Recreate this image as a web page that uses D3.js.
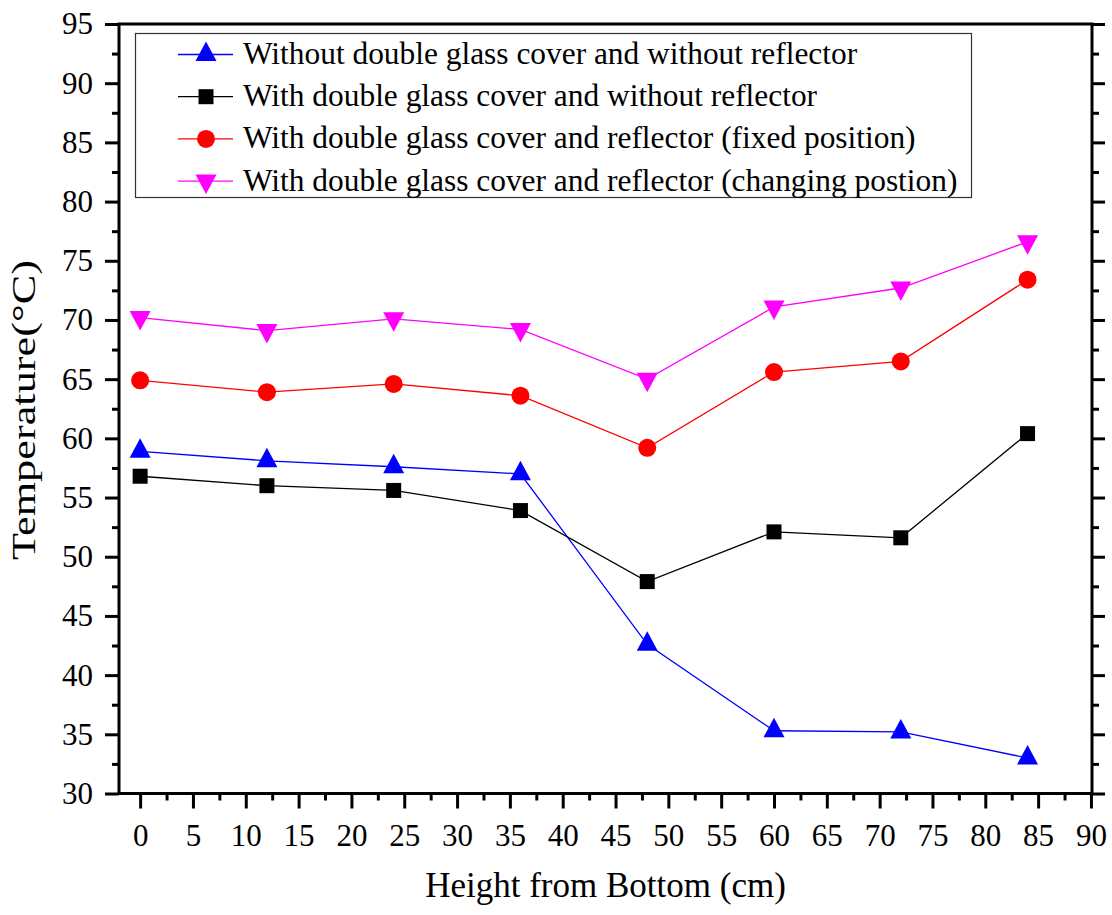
<!DOCTYPE html>
<html>
<head>
<meta charset="utf-8">
<script src="https://cdn.jsdelivr.net/npm/d3@7/dist/d3.min.js"></script>
<style>
  html, body { margin: 0; padding: 0; background: #fff; }
  svg { display: block; }
  text { font-family: "Liberation Serif", "Times New Roman", serif; fill: #000; }
</style>
</head>
<body>
<svg id="chart" width="1112" height="915"></svg>
<script>
// ---- data ----
const heights = [0, 12, 24, 36, 48, 60, 72, 84];
const seriesNames = [
  "Without double glass cover and without reflector",
  "With double glass cover and without reflector",
  "With double glass cover and reflector (fixed position)",
  "With double glass cover and reflector (changing postion)"
];
const noCoverNoReflector   = [58.9, 58.1, 57.6, 57.0, 42.6, 35.3, 35.2, 33.0];
const coverNoReflector     = [56.8, 56.0, 55.6, 53.9, 47.9, 52.1, 51.6, 60.4];
const coverReflectorFixed  = [64.9, 63.9, 64.6, 63.6, 59.2, 65.6, 66.5, 73.4];
const coverReflectorMoving = [70.2, 69.1, 70.1, 69.2, 65.0, 71.1, 72.7, 76.6];
const xTicks = [0, 5, 10, 15, 20, 25, 30, 35, 40, 45, 50, 55, 60, 65, 70, 75, 80, 85, 90];
const yTicks = [30, 35, 40, 45, 50, 55, 60, 65, 70, 75, 80, 85, 90, 95];
const xLabel = "Height from Bottom (cm)";
const yLabel = "Temperature(°C)";

// ---- styles ----
const colors = ["#0000FF", "#000000", "#FF0000", "#FF00FF"];
const markers = ["triUp", "square", "circle", "triDown"];
const allSeries = [noCoverNoReflector, coverNoReflector, coverReflectorFixed, coverReflectorMoving];

const svg = d3.select("#chart");
const L = 119, R = 1092, T = 24, B = 793.5;

const x = d3.scaleLinear().domain([-2, 90.1]).range([L, R]);
const y = d3.scaleLinear().domain([30, 95]).range([B, T]);

function markerPath(type) {
  if (type === "triUp") return "M0,-13L10.5,6.5L-10.5,6.5Z";
  if (type === "triDown") return "M0,13L10.5,-6.5L-10.5,-6.5Z";
  if (type === "square") return "M-7.5,-7.5H7.5V7.5H-7.5Z";
  return d3.arc()({innerRadius: 0, outerRadius: 9, startAngle: 0, endAngle: 2 * Math.PI});
}

// ---- series ----
const line = d3.line().x((d, i) => x(heights[i])).y(d => y(d));
allSeries.forEach((vals, s) => {
  svg.append("path")
    .attr("d", line(vals))
    .attr("fill", "none")
    .attr("stroke", colors[s])
    .attr("stroke-width", 1.3);
});
allSeries.forEach((vals, s) => {
  svg.append("g").selectAll("path")
    .data(vals)
    .join("path")
    .attr("transform", (d, i) => `translate(${x(heights[i])},${y(d)})`)
    .attr("d", markerPath(markers[s]))
    .attr("fill", colors[s]);
});

// ---- axes ----
const xMinor = d3.range(2.5, 90, 5);
const yMinor = d3.range(32.5, 95, 5);

function styleAxis(g) {
  g.select(".domain").remove();
  g.selectAll(".tick line").attr("stroke", "#000").attr("stroke-width", 3);
  g.selectAll("text").style("font-size", "31px").style("font-family", "Liberation Serif");
}

// bottom
const gxMinor = svg.append("g").attr("transform", `translate(0,${B})`)
  .call(d3.axisBottom(x).tickValues(xMinor).tickSize(7).tickFormat(""));
styleAxis(gxMinor);
const gx = svg.append("g").attr("transform", `translate(0,${B})`)
  .call(d3.axisBottom(x).tickValues(xTicks).tickSize(15).tickPadding(15).tickFormat(d3.format("d")));
styleAxis(gx);

// left
const gyMinor = svg.append("g").attr("transform", `translate(${L},0)`)
  .call(d3.axisLeft(y).tickValues(yMinor).tickSize(7).tickFormat(""));
styleAxis(gyMinor);
const gy = svg.append("g").attr("transform", `translate(${L},0)`)
  .call(d3.axisLeft(y).tickValues(yTicks).tickSize(14).tickPadding(12).tickFormat(d3.format("d")));
styleAxis(gy);

// right
const grMinor = svg.append("g").attr("transform", `translate(${R},0)`)
  .call(d3.axisRight(y).tickValues(yMinor).tickSize(7).tickFormat(""));
styleAxis(grMinor);
const gr = svg.append("g").attr("transform", `translate(${R},0)`)
  .call(d3.axisRight(y).tickValues(yTicks).tickSize(13).tickFormat(""));
styleAxis(gr);

// frame
svg.append("rect")
  .attr("x", L).attr("y", T)
  .attr("width", R - L).attr("height", B - T)
  .attr("fill", "none").attr("stroke", "#000").attr("stroke-width", 3);

// axis titles
svg.append("text")
  .attr("x", (L + R) / 2).attr("y", 897)
  .attr("text-anchor", "middle")
  .style("font-size", "35px")
  .text(xLabel);
svg.append("text")
  .attr("transform", `translate(35,410) rotate(-90)`)
  .attr("text-anchor", "middle")
  .attr("textLength", 300)
  .attr("lengthAdjust", "spacingAndGlyphs")
  .style("font-size", "34px")
  .text(yLabel);

// ---- legend ----
const lg = svg.append("g");
lg.append("rect")
  .attr("x", 135.5).attr("y", 33.5)
  .attr("width", 836).attr("height", 164)
  .attr("fill", "#fff").attr("stroke", "#333").attr("stroke-width", 1.2);
seriesNames.forEach((name, s) => {
  const cy = 54.5 + s * 42.2;
  lg.append("line")
    .attr("x1", 178).attr("x2", 233).attr("y1", cy).attr("y2", cy)
    .attr("stroke", colors[s]).attr("stroke-width", 1.3);
  lg.append("path")
    .attr("transform", `translate(206,${cy})`)
    .attr("d", markerPath(markers[s]))
    .attr("fill", colors[s]);
  lg.append("text")
    .attr("x", 243).attr("y", cy + 9.5)
    .style("font-size", "31.4px")
    .text(name);
});
</script>
</body>
</html>
